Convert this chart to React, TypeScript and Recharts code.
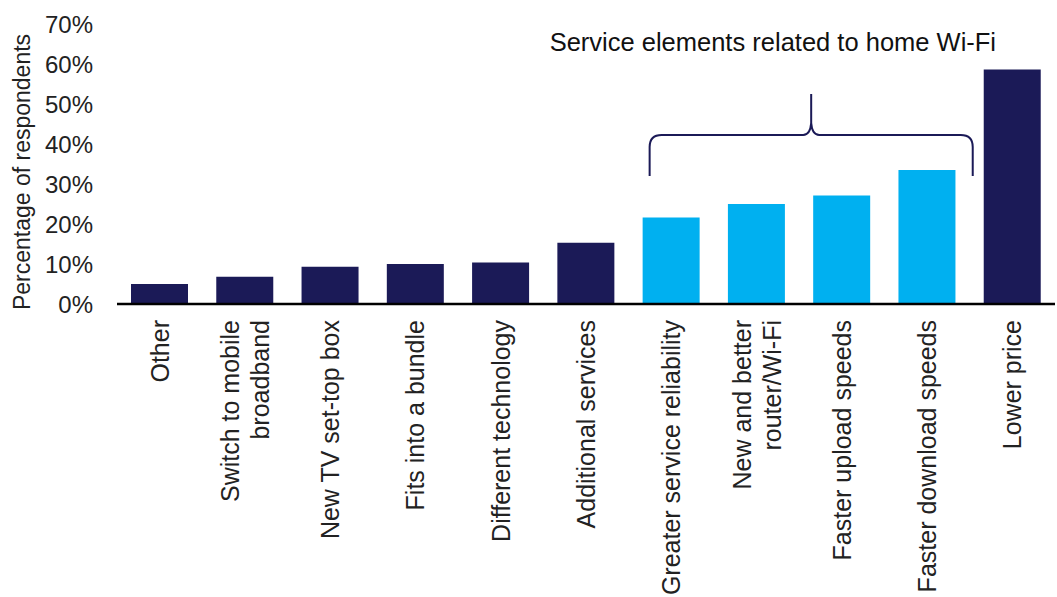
import React from 'react';
import { BarChart, Bar, XAxis, YAxis, Cell, ReferenceArea } from 'recharts';

const CATEGORIES = [
    'Other',
    'Switch to mobile\nbroadband',
    'New TV set-top box',
    'Fits into a bundle',
    'Different technology',
    'Additional services',
    'Greater service reliability',
    'New and better\nrouter/Wi-Fi',
    'Faster upload speeds',
    'Faster download speeds',
    'Lower price',
];
const SHARES = [5.0, 6.8, 9.3, 10.0, 10.4, 15.3, 21.6, 25.0, 27.1, 33.5, 58.6];
const WIFI_ITEMS = [
    'Greater service reliability',
    'New and better\nrouter/Wi-Fi',
    'Faster upload speeds',
    'Faster download speeds',
];
const Y_TICKS = [0, 10, 20, 30, 40, 50, 60, 70];
const BRACE_LOW = 32;
const BRACE_PEAK = 52.5;
const BRACE_TITLE = 'Service elements related to home Wi-Fi';

const NAVY = '#1b1a57';
const SKY = '#00b0f0';
const TEXT = '#222222';
const FONT = '"Liberation Sans", Arial, sans-serif';

const data = CATEGORIES.map((name, i) => ({ name, value: SHARES[i] }));

const XTick = ({ x, y, payload }: any) => {
    const lines: string[] = String(payload.value).split('\n');
    const lh = 30;
    return (
        <g transform={`translate(${x},${y})`}>
            <text transform="rotate(-90)" textAnchor="end" fill={TEXT} fontSize={25} fontFamily={FONT}>
                {lines.map((line, i) => (
                    <tspan key={i} x={0} y={(i - (lines.length - 1) / 2) * lh + 9}>{line}</tspan>
                ))}
            </text>
        </g>
    );
};

const YLabel = ({ viewBox }: any) => {
    const cy = viewBox.y + viewBox.height / 2 + 8;
    return (
        <text x={30} y={cy} transform={`rotate(-90, 30, ${cy})`} textAnchor="middle" fill={TEXT} fontSize={23} fontFamily={FONT}>
            Percentage of respondents
        </text>
    );
};

const Brace = ({ x, y, width, height }: any) => {
    const L = x + 21;
    const R = x + width + 3;
    const C = (L + R) / 2;
    const top = y;
    const bottom = y + height;
    const mid = (top + bottom) / 2;
    const r = 12;
    const d = `M${L},${bottom} L${L},${mid + r} Q${L},${mid} ${L + r},${mid} L${C - 8},${mid} Q${C - 1},${mid} ${C},${mid - 12} L${C},${top} `
        + `M${C},${top} L${C},${mid - 12} Q${C + 1},${mid} ${C + 8},${mid} L${R - r},${mid} Q${R},${mid} ${R},${mid + r} L${R},${bottom}`;
    return (
        <g>
            <path d={d} fill="none" stroke={NAVY} strokeWidth={2} />
            <text x={L - 100} y={top - 43} fill="#111" fontSize={25.5} fontFamily={FONT}>{BRACE_TITLE}</text>
        </g>
    );
};

const App: React.FC = () => {
    return (
        <div style={{ position: 'absolute', left: 0, top: 0, width: 1057, height: 597, background: '#ffffff' }}>
            <BarChart width={1057} height={597} data={data} margin={{ top: 24, right: 2, left: 0, bottom: 0 }}>
                <XAxis
                    dataKey="name"
                    interval={0}
                    height={293}
                    tickLine={false}
                    tickSize={0}
                    tickMargin={16}
                    axisLine={{ stroke: '#000000', strokeWidth: 2.5 }}
                    tick={<XTick />}
                />
                <YAxis
                    width={117}
                    domain={[0, 70]}
                    ticks={Y_TICKS}
                    tickFormatter={(v) => `${v}%`}
                    axisLine={false}
                    tickLine={false}
                    tickSize={0}
                    tickMargin={24}
                    tick={{ fill: TEXT, fontSize: 24, fontFamily: FONT }}
                    label={<YLabel />}
                />
                <Bar dataKey="value" barSize={57} isAnimationActive={false}>
                    {data.map((d) => (
                        <Cell key={d.name} fill={WIFI_ITEMS.includes(d.name) ? SKY : NAVY} />
                    ))}
                </Bar>
                <ReferenceArea
                    x1={WIFI_ITEMS[0]}
                    x2={WIFI_ITEMS[WIFI_ITEMS.length - 1]}
                    y1={BRACE_LOW}
                    y2={BRACE_PEAK}
                    shape={<Brace />}
                />
            </BarChart>
        </div>
    );
};

export default App;
